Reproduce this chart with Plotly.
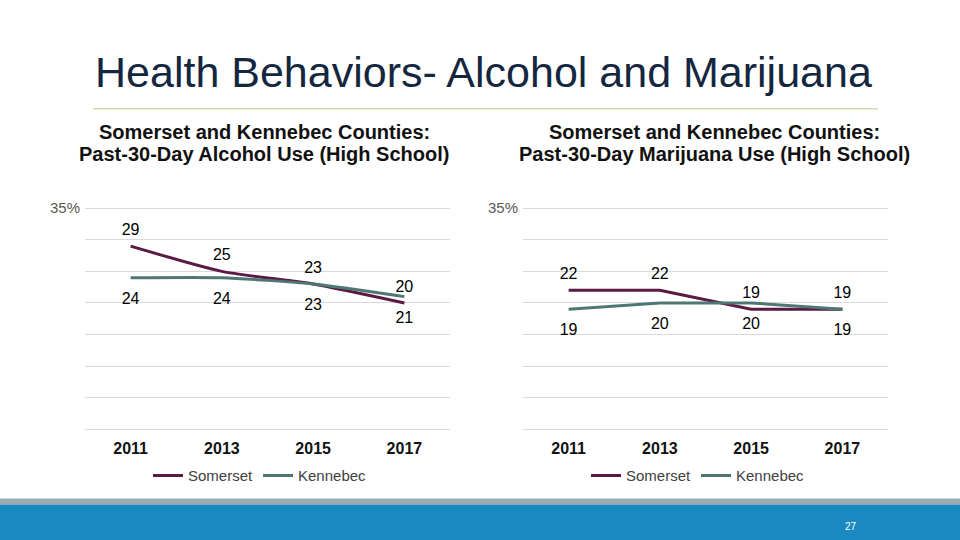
import plotly.graph_objects as go

years = ["2011", "2013", "2015", "2017"]
alc_somerset = [29, 25, 23, 20]
alc_kennebec = [24, 24, 23, 21]
mj_somerset = [22, 22, 19, 19]
mj_kennebec = [19, 20, 20, 19]
y_ticks = [0, 5, 10, 15, 20, 25, 30, 35]
y_ticktext = ["", "", "", "", "", "", "", "35%"]

title_text = "Health Behaviors- Alcohol and Marijuana"
sub_left = ["Somerset and Kennebec Counties:", "Past-30-Day Alcohol Use (High School)"]
sub_right = ["Somerset and Kennebec Counties:", "Past-30-Day Marijuana Use (High School)"]

C_SOM = "#5a1a43"
C_KEN = "#4e7774"
FONT = "Liberation Sans, Arial, sans-serif"

fig = go.Figure()

def add(xa, ya, vals, name, color, pos, shape, legend, msize):
    fig.add_trace(go.Scatter(
        x=years, y=vals, name=name, xaxis=xa, yaxis=ya,
        mode="lines+markers+text", text=[str(v) for v in vals],
        textposition=pos,
        textfont=dict(family=FONT, size=16, color="#000000"),
        line=dict(color=color, width=3, shape=shape, smoothing=0.6),
        marker=dict(size=msize, color="rgba(0,0,0,0)"),
        legend=legend, hoverinfo="skip", cliponaxis=False,
    ))

add("x", "y", alc_somerset, "Somerset", C_SOM, "top center", "spline", "legend", 10)
add("x", "y", alc_kennebec, "Kennebec", C_KEN, "bottom center", "spline", "legend", 21)
add("x2", "y2", mj_somerset, "Somerset", C_SOM, "top center", "linear", "legend2", 10)
add("x2", "y2", mj_kennebec, "Kennebec", C_KEN, "bottom center", "linear", "legend2", 21)

# y=0 near pixel 428, y=35 near pixel 204.5; range padded by 0.5 so edge gridlines draw
pad = 0.5
y_top_px, y_bot_px = 204.5, 428.0
ppu = (y_bot_px - y_top_px) / 35
ydom = [1 - (y_bot_px + pad * ppu) / 540, 1 - (y_top_px - pad * ppu) / 540]
xcommon = dict(type="category", range=[-0.5, 3.5], showgrid=False, showline=False,
               zeroline=False, ticks="", ticklabelstandoff=5,
               tickfont=dict(family=FONT, size=16, color="#111111", weight="bold"))
ycommon = dict(range=[-pad, 35 + pad], tickvals=y_ticks, ticktext=y_ticktext, showgrid=True,
               gridcolor="#d9d9d9", gridwidth=1, zeroline=False, showline=False,
               ticks="", ticklabelstandoff=4,
               tickfont=dict(family=FONT, size=15, color="#595959"))

legcommon = dict(orientation="h", xanchor="center", yanchor="middle",
                 y=1 - 475 / 540, font=dict(family=FONT, size=15, color="#404040"),
                 bgcolor="rgba(0,0,0,0)", itemwidth=30, tracegroupgap=0)

def sub(text, x, y):
    return dict(text=text, xref="paper", yref="paper", x=x / 960, y=1 - y / 540,
                xanchor="center", yanchor="middle", showarrow=False,
                font=dict(family=FONT, size=20, color="#111111", weight="bold"))

fig.update_layout(
    width=960, height=540,
    margin=dict(l=0, r=0, t=0, b=0),
    paper_bgcolor="white", plot_bgcolor="white",
    showlegend=True,
    xaxis=dict(domain=[85 / 960, 450 / 960], anchor="y", **xcommon),
    yaxis=dict(domain=ydom, anchor="x", **ycommon),
    xaxis2=dict(domain=[523 / 960, 888 / 960], anchor="y2", **xcommon),
    yaxis2=dict(domain=ydom, anchor="x2", **ycommon),
    legend=dict(x=260 / 960, **legcommon),
    legend2=dict(x=698 / 960, **legcommon),
    shapes=[
        dict(type="line", xref="paper", yref="paper", x0=93 / 960, x1=878 / 960,
             y0=1 - 104 / 540, y1=1 - 104 / 540, line=dict(color="#b3c98a", width=1)),
        dict(type="rect", xref="paper", yref="paper", x0=0, x1=1,
             y0=1 - 504 / 540, y1=1 - 498 / 540, line=dict(width=0), fillcolor="#9eabb0"),
        dict(type="rect", xref="paper", yref="paper", x0=0, x1=1,
             y0=0, y1=1 - 504 / 540, line=dict(width=0), fillcolor="#1a89c0"),
    ],
    annotations=[
        dict(text=title_text, xref="paper", yref="paper", x=483 / 960, y=1 - 67 / 540,
             xanchor="center", yanchor="middle", showarrow=False,
             font=dict(family=FONT, size=43, color="#14273f")),
        sub(sub_left[0], 264, 127), sub(sub_left[1], 264, 150),
        sub(sub_right[0], 714, 127), sub(sub_right[1], 714, 150),
        dict(text="27", xref="paper", yref="paper", x=851 / 960, y=1 - 526 / 540,
             xanchor="center", yanchor="middle", showarrow=False,
             font=dict(family=FONT, size=10, color="white")),
    ],
)

fig.write_html(
    "out.html",
    config={"displayModeBar": False},
    post_script="document.body.style.margin='0';document.body.style.overflow='hidden';"
                "document.documentElement.style.overflow='hidden';",
)
